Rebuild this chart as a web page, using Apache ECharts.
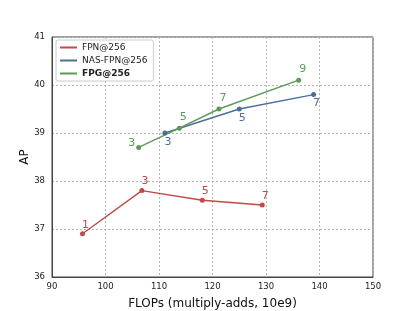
<!DOCTYPE html>
<html><head><meta charset="utf-8">
<script src="https://cdn.jsdelivr.net/npm/echarts@6/dist/echarts.min.js"></script>
<style>html,body{margin:0;padding:0;background:#fff}#c{width:415px;height:311px}</style>
</head><body><div id="c"></div>
<script>
const fpnX = [95.7, 106.8, 118.1, 129.3];
const fpnY = [36.9, 37.8, 37.6, 37.5];
const fpnLabels = ['1', '3', '5', '7'];
const nasX = [111.1, 125.0, 138.9];
const nasY = [39.0, 39.5, 39.8];
const nasLabels = ['3', '5', '7'];
const fpgX = [106.2, 113.8, 121.2, 136.1];
const fpgY = [38.7, 39.1, 39.5, 40.1];
const fpgLabels = ['3', '5', '7', '9'];
const seriesNames = ['FPN@256', 'NAS-FPN@256', 'FPG@256'];
const xTicks = [90, 100, 110, 120, 130, 140, 150];
const yTicks = [36, 37, 38, 39, 40, 41];

const FONT = 'DejaVu Sans';
const colors = ['#c0494a', '#4b6f98', '#5c9a57'];

function build(xs, ys, labels, color, offsetFn) {
  return xs.map((x, i) => ({
    value: [x, ys[i]],
    label: { show: true, formatter: labels[i], position: 'inside', offset: offsetFn(i),
      color: color, fontSize: 11, fontFamily: FONT }
  }));
}

const chart = echarts.init(document.getElementById('c'));
chart.setOption({
  animation: false,
  textStyle: { fontFamily: FONT },
  grid: { left: 52, right: 42, top: 37, bottom: 34, show: true, borderColor: '#444', borderWidth: 1,
    containLabel: false, outerBoundsMode: 'none' },
  xAxis: {
    type: 'value', min: xTicks[0], max: xTicks[xTicks.length - 1], interval: 10,
    name: 'FLOPs (multiply-adds, 10e9)', nameLocation: 'middle', nameGap: 21,
    nameTextStyle: { fontSize: 12, color: '#111', fontFamily: FONT },
    axisLine: { show: true, lineStyle: { color: '#444' } },
    axisTick: { show: false },
    axisLabel: { fontSize: 8.5, color: '#222', margin: 5, fontFamily: FONT },
    splitLine: { show: true, lineStyle: { type: [2, 2], color: '#b5b5b5' } }
  },
  yAxis: {
    type: 'value', min: yTicks[0], max: yTicks[yTicks.length - 1], interval: 1,
    name: 'AP', nameLocation: 'middle', nameGap: 21, nameMoveOverlap: false,
    nameTextStyle: { fontSize: 12, color: '#111', fontFamily: FONT },
    axisLine: { show: true, lineStyle: { color: '#444' } },
    axisTick: { show: false },
    axisLabel: { fontSize: 8.5, color: '#222', margin: 7, fontFamily: FONT },
    splitLine: { show: true, lineStyle: { type: [2, 2], color: '#b5b5b5' } }
  },
  legend: {
    orient: 'vertical', left: 56, top: 40,
    backgroundColor: '#fff', borderColor: '#ccc', borderWidth: 1, borderRadius: 2,
    padding: [3, 6, 3, 4], itemGap: 4, itemWidth: 17, itemHeight: 2, icon: 'rect',
    textStyle: { fontSize: 9, color: '#222', fontFamily: FONT },
    data: [
      { name: seriesNames[0] },
      { name: seriesNames[1] },
      { name: seriesNames[2], textStyle: { fontWeight: 'bold' } }
    ]
  },
  series: [
    { name: seriesNames[0], type: 'line', color: colors[0], symbol: 'circle', symbolSize: 5,
      lineStyle: { width: 1.4 }, data: build(fpnX, fpnY, fpnLabels, colors[0], () => [3, -9]) },
    { name: seriesNames[1], type: 'line', color: colors[1], symbol: 'circle', symbolSize: 5,
      lineStyle: { width: 1.4 }, data: build(nasX, nasY, nasLabels, colors[1], () => [3, 9]) },
    { name: seriesNames[2], type: 'line', color: colors[2], symbol: 'circle', symbolSize: 5,
      lineStyle: { width: 1.4 }, data: build(fpgX, fpgY, fpgLabels, colors[2], i => i === 0 ? [-7, -4] : [4, -11]) }
  ]
});
</script></body></html>
